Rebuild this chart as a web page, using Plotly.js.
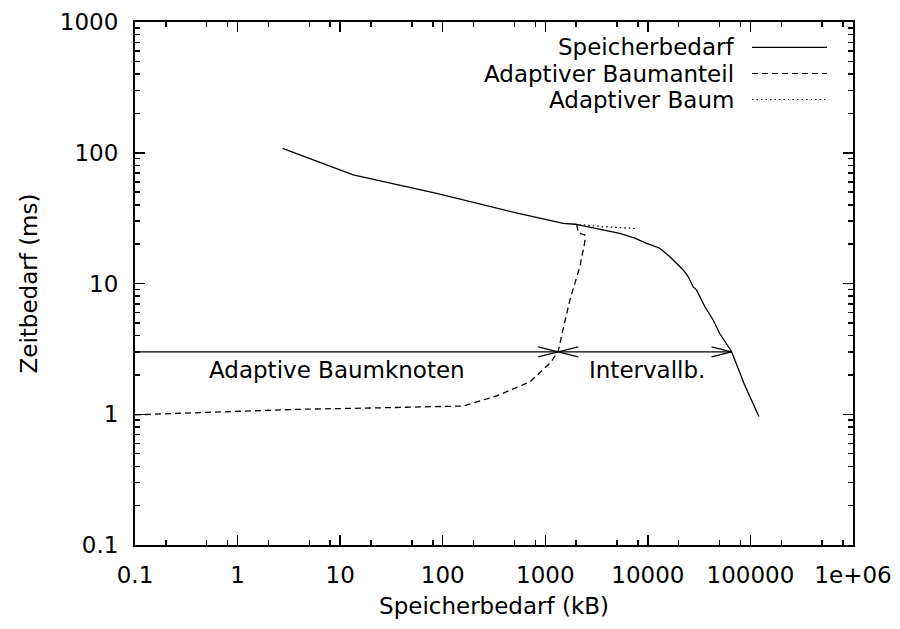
<!DOCTYPE html>
<html><head><meta charset="utf-8">
<script src="https://cdn.plot.ly/plotly-3.0.1.min.js"></script>
<style>html,body{margin:0;padding:0;background:#fff}</style>
</head><body><div id="chart" style="width:900px;height:629px"></div>
<script>
// ---- data ----
const seriesNames = ["Speicherbedarf", "Adaptiver Baumanteil", "Adaptiver Baum"];

const speicherX = [2.75, 13.4, 87.3, 389, 533, 1497, 1943, 5330, 7460, 9700, 13100, 16400, 22100, 24700, 27600, 29900, 33300, 36000, 43300, 50000, 65400, 88000, 121000];
const speicherY = [108, 67.6, 49.0, 36.5, 34.5, 28.8, 28.4, 24.2, 22.2, 20.3, 18.6, 16.0, 12.7, 11.3, 9.46, 8.9, 7.48, 6.64, 5.26, 4.16, 3.02, 1.67, 0.96];

const anteilX = [0.1, 0.4, 3.77, 24.4, 158, 335, 708, 1109, 1337, 1472, 1738, 2174, 2433, 2430, 2090, 2030];
const anteilY = [0.99, 1.03, 1.09, 1.12, 1.156, 1.38, 1.77, 2.45, 3.02, 4.28, 7.48, 13.5, 20.9, 23.5, 24.5, 28.4];

const baumX = [1943, 3660, 7460];
const baumY = [28.4, 27.2, 26.4];

// arrows: left part "Adaptive Baumknoten", right part "Intervallb."
const arrowY = 3.0;
const arrowX = [0.1, 1337, 65400];
const arrowLabels = ["Adaptive Baumknoten", "Intervallb."];
const arrowLabelX = [9.4, 9900];
const arrowLabelY = [2.19, 2.19];

const xTickVals = [0.1, 1, 10, 100, 1000, 10000, 100000, 1000000];
const xTickText = ["0.1", "1", "10", "100", "1000", "10000", "100000", "1e+06"];
const yTickVals = [0.1, 1, 10, 100, 1000];
const yTickText = ["0.1", "1", "10", "100", "1000"];
const xMinorMant = [2, 5, 8];
const yMinorMant = [2, 3, 4, 5, 6, 7, 8, 9];

// ---- build ----
const FONT = "DejaVu Sans, Liberation Sans, Arial, sans-serif";
const FS = 23;
const LW = 1.3;
function minorVals(mant, lo, hi) {
  const v = [];
  for (let d = lo; d < hi; d++) mant.forEach(m => v.push(m * Math.pow(10, d)));
  return v;
}
// arrowhead geometry (open V heads), expressed in decades
const HEAD_LEN = 0.195, HEAD_HALF = 0.038;
function head(xt, yt, dir) {
  const xb = xt * Math.pow(10, -dir * HEAD_LEN);
  return { x: [xb, xt, xb], y: [yt * Math.pow(10, HEAD_HALF), yt, yt / Math.pow(10, HEAD_HALF)] };
}

const black = "#000";
const traces = [
  { x: speicherX, y: speicherY, name: seriesNames[0], mode: "lines", line: { color: black, width: LW } },
  { x: anteilX, y: anteilY, name: seriesNames[1], mode: "lines", line: { color: black, width: LW, dash: "6px,4px" } },
  { x: baumX, y: baumY, name: seriesNames[2], mode: "lines", line: { color: black, width: LW, dash: "1.5px,3px" } },
  { x: [arrowX[0], arrowX[2]], y: [arrowY, arrowY], mode: "lines", line: { color: black, width: LW }, hoverinfo: "skip" }
];
[head(arrowX[1], arrowY, 1), head(arrowX[1], arrowY, -1), head(arrowX[2], arrowY, 1)].forEach(h => {
  traces.push({ x: h.x, y: h.y, mode: "lines", line: { color: black, width: LW }, hoverinfo: "skip" });
});

const L = 135, R = 47, T = 22, B = 84;
const W = 900 - L - R, H = 629 - T - B;
const legendRowsY = [47.3, 73.5, 99.5];
const legendDash = ["solid", "6px,4px", "1.5px,3px"];
const annotations = [];
const shapes = [];
seriesNames.forEach((n, i) => {
  const py = (629 - B - legendRowsY[i]) / H;
  annotations.push({ xref: "paper", yref: "paper", x: (736 - L) / W, y: py, xanchor: "right", yanchor: "middle",
    text: n, showarrow: false, font: { family: FONT, size: FS, color: black } });
  shapes.push({ type: "line", xref: "paper", yref: "paper", x0: (752 - L) / W, x1: (827 - L) / W, y0: py, y1: py,
    line: { color: black, width: 1.2, dash: legendDash[i] } });
});
arrowLabels.forEach((t, i) => {
  annotations.push({ xref: "x", yref: "y", x: Math.log10(arrowLabelX[i]), y: Math.log10(arrowLabelY[i]),
    xanchor: "center", yanchor: "middle", text: t, showarrow: false, font: { family: FONT, size: FS, color: black } });
});

const axisCommon = {
  type: "log", showgrid: false, zeroline: false, showline: true, linecolor: black, linewidth: 2,
  mirror: "allticks", ticks: "inside", ticklen: 10, tickwidth: 1.5, tickcolor: black,
  tickmode: "array", tickfont: { family: FONT, size: FS, color: black }
};
const layout = {
  width: 900, height: 629, margin: { l: L, r: R, t: T, b: B },
  paper_bgcolor: "#fff", plot_bgcolor: "#fff", showlegend: false,
  xaxis: Object.assign({}, axisCommon, {
    range: [-1, 6], tickvals: xTickVals, ticktext: xTickText, ticklabelstandoff: 8,
    minor: { tickmode: "array", tickvals: minorVals(xMinorMant, -1, 6), ticks: "inside", ticklen: 5, tickwidth: 1.5, tickcolor: black },
    title: { text: "Speicherbedarf (kB)", font: { family: FONT, size: FS, color: black }, standoff: 11 }
  }),
  yaxis: Object.assign({}, axisCommon, {
    range: [-1, 3], tickvals: yTickVals, ticktext: yTickText, ticklabelstandoff: 10,
    minor: { tickmode: "array", tickvals: minorVals(yMinorMant, -1, 3), ticks: "inside", ticklen: 5, tickwidth: 1.5, tickcolor: black },
    title: { text: "Zeitbedarf (ms)", font: { family: FONT, size: FS, color: black }, standoff: 16 }
  }),
  annotations: annotations, shapes: shapes
};
Plotly.newPlot("chart", traces, layout, { displayModeBar: false, staticPlot: true });
</script>
</body></html>
